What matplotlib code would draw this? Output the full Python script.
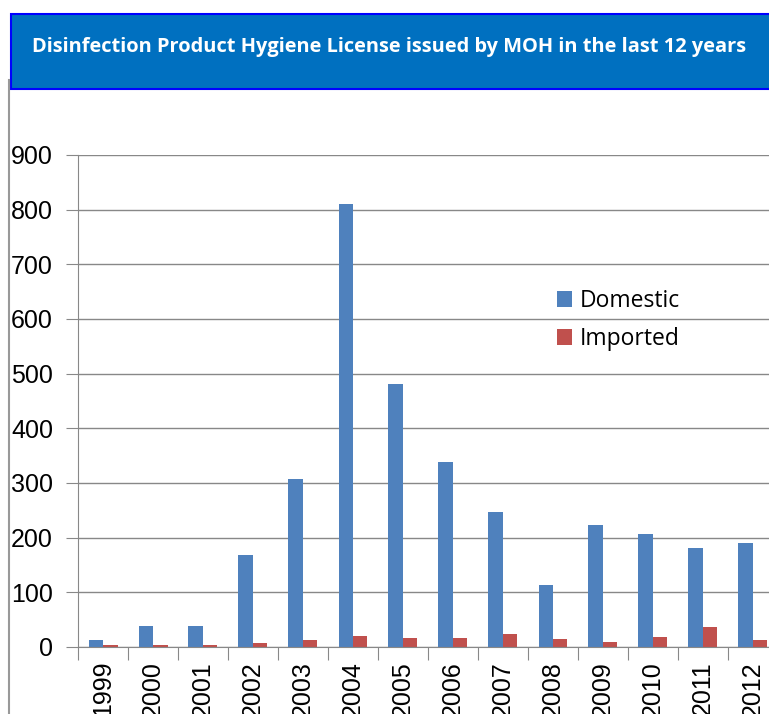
import numpy as np
import matplotlib.pyplot as plt
from matplotlib.patches import Rectangle
from matplotlib.lines import Line2D

years = ['1999', '2000', '2001', '2002', '2003', '2004', '2005',
         '2006', '2007', '2008', '2009', '2010', '2011', '2012']
domestic = [12, 38, 38, 168, 308, 810, 481, 338, 247, 113, 223, 207, 181, 191]
imported = [3, 3, 3, 8, 12, 21, 17, 17, 24, 15, 10, 19, 36, 13]
title = 'Disinfection Product Hygiene License issued by MOH in the last 12 years'

W, H = 769, 714
fig = plt.figure(figsize=(W / 100, H / 100), dpi=100)

# title box, runs off the right edge
fig.patches.append(Rectangle((11 / W, 1 - 89 / H), 800 / W, 75 / H,
                             transform=fig.transFigure, facecolor='#0070C0',
                             edgecolor='#0000FF', linewidth=1.5))
fig.text(389 / W, 1 - 47 / H, title, color='white', fontsize=14.4,
         fontweight='bold', family='Open Sans', ha='center', va='center')

# grey border on the left
fig.add_artist(Line2D([8.5 / W, 8.5 / W], [0, 1 - 80 / H], color='#999999', lw=1.5))

ax = fig.add_axes([78 / W, 67 / H, 700 / W, (647 - 155) / H])
x = np.arange(len(years))
bw = 0.29
ax.bar(x - bw / 2, domestic, bw, color='#4F81BD', label='Domestic')
ax.bar(x + bw / 2, imported, bw, color='#C0504D', label='Imported')

ax.set_xlim(-0.5, len(years) - 0.5)
ax.set_ylim(0, 900)
ax.set_yticks(range(0, 1000, 100))
ax.tick_params(axis='y', labelsize=18, length=9, color='#888888', pad=9)
ax.set_xticks(np.arange(-0.5, len(years), 1), minor=False)
ax.set_xticklabels([''] * (len(years) + 1))
ax.set_xticks(x, minor=True)
ax.set_xticklabels(years, minor=True, rotation=90, fontsize=18)
ax.tick_params(axis='x', which='major', length=9, color='#888888')
ax.tick_params(axis='x', which='minor', length=0, pad=10)
for lab in ax.get_xticklabels(minor=True) + ax.get_yticklabels():
    lab.set_family('Liberation Sans')

ax.yaxis.grid(True, color='#888888', lw=1)
ax.set_axisbelow(True)
for s in ['top', 'right']:
    ax.spines[s].set_visible(False)
ax.spines['left'].set_color('#888888')
ax.spines['bottom'].set_color('#888888')

leg = ax.legend(loc='upper left', bbox_to_anchor=(470 / 700, 1 - 125 / 492),
                frameon=False, handlelength=0.65, handleheight=0.65,
                handletextpad=0.35, labelspacing=0.6, borderaxespad=0,
                prop={'family': 'Open Sans', 'size': 16.5})

fig.savefig('out.png', dpi=100)
